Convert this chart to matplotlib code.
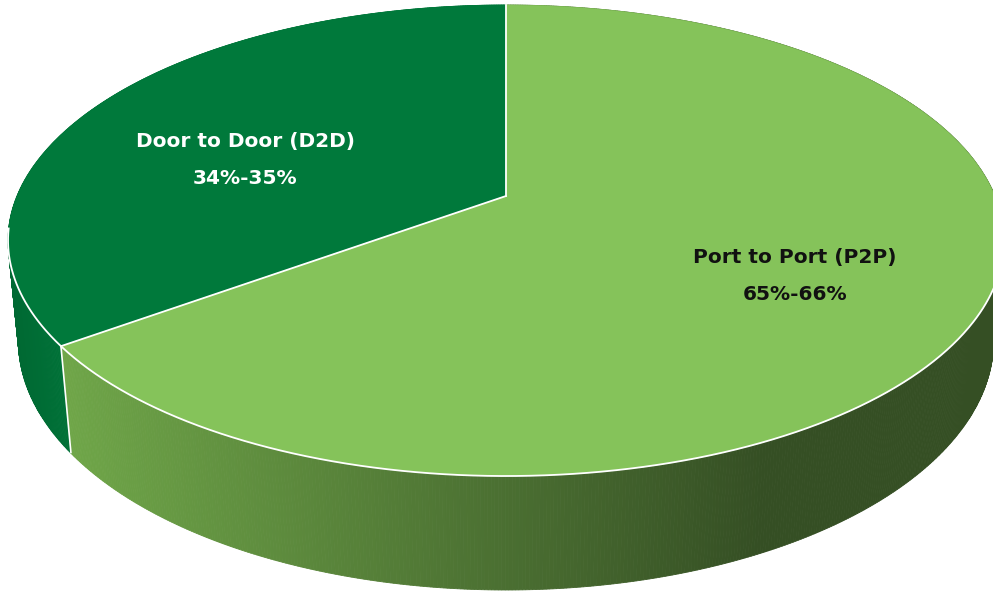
import numpy as np
import matplotlib
matplotlib.use("Agg")
import matplotlib.pyplot as plt
from matplotlib.patches import Polygon

# Shipment mode split
categories = ["Door to Door (D2D)", "Port to Port (P2P)"]
share = [35, 65]
range_labels = ["34%-35%", "65%-66%"]

top_colors = ["#00793B", "#85C35A"]
text_colors = ["white", "#111111"]

W, H = 993, 592
fig = plt.figure(figsize=(W / 100, H / 100), dpi=100)
ax = fig.add_axes([0, 0, 1, 1])
ax.set_xlim(0, W)
ax.set_ylim(H, 0)
ax.axis("off")

# perspective camera for the tilted disc
CX, CY = 506.0, 196.0
A, B, C = 489.0, 227.1, 100.5
K, M = 0.189, 0.0205


def proj(t, z):
    X, Y = np.cos(t), np.sin(t)
    w = 1 + K * Y - M * z
    return CX + A * X / w, CY - (B * Y + C * z) / w


# slice angles, counter-clockwise from 12 o'clock
angles = np.deg2rad(90 + 360 * np.concatenate([[0], np.cumsum(share)]) / sum(share))


def side_color(idx, x):
    if idx == 0:
        c0, c1 = np.array([0, 104, 50]), np.array([0, 114, 56])
        f = np.clip((x - 10) / 60, 0, 1)
    else:
        c0, c1 = np.array([112, 167, 73]), np.array([53, 79, 36])
        f = np.clip((x - 60) / (760 - 60), 0, 1)
    return (c0 + (c1 - c0) * f) / 255


# side wall, drawn back to front
strips = []
for i in range(len(share)):
    ts = np.linspace(angles[i], angles[i + 1], int(np.rad2deg(angles[i + 1] - angles[i]) * 3) + 2)
    for t0, t1 in zip(ts[:-1], ts[1:]):
        strips.append((i, t0, t1))
strips.sort(key=lambda s: -np.sin((s[1] + s[2]) / 2))
for i, t0, t1 in strips:
    pts = [proj(t0, 0), proj(t1, 0), proj(t1, -1), proj(t0, -1)]
    col = side_color(i, np.mean([p[0] for p in pts]))
    ax.add_patch(Polygon(pts, closed=True, facecolor=col, edgecolor=col, lw=0.6))

# cut between slices on the wall
b = angles[1]
x0, y0 = proj(b, 0)
x1, y1 = proj(b, -1)
ax.plot([x0, x1], [y0, y1], color="white", lw=1.2, solid_capstyle="butt")

# top faces
for i in range(len(share)):
    ts = np.linspace(angles[i], angles[i + 1], 400)
    poly = [(CX, CY)] + [proj(t, 0) for t in ts]
    ax.add_patch(Polygon(poly, closed=True, facecolor=top_colors[i],
                         edgecolor=top_colors[i], lw=0.5))

# white separators on the top
for a in angles[:2]:
    xe, ye = proj(a, 0)
    ax.plot([CX, xe], [CY, ye], color="white", lw=1.3)

# white rim along the visible front edge
tr = np.linspace(np.deg2rad(188), np.deg2rad(352), 600)
rim = np.array([proj(t, 0) for t in tr])
ax.plot(rim[:, 0], rim[:, 1], color="white", lw=1.3)

# labels
label_pos = [(245, 142), (795, 258)]
for i in range(len(share)):
    x, y = label_pos[i]
    ax.text(x, y, categories[i], ha="center", va="center", fontsize=14.5,
            fontweight="bold", family="DejaVu Sans", color=text_colors[i])
    ax.text(x, y + 36, range_labels[i], ha="center", va="center", fontsize=14.5,
            fontweight="bold", family="DejaVu Sans", color=text_colors[i])

fig.savefig("out.png", dpi=100, facecolor="white")
